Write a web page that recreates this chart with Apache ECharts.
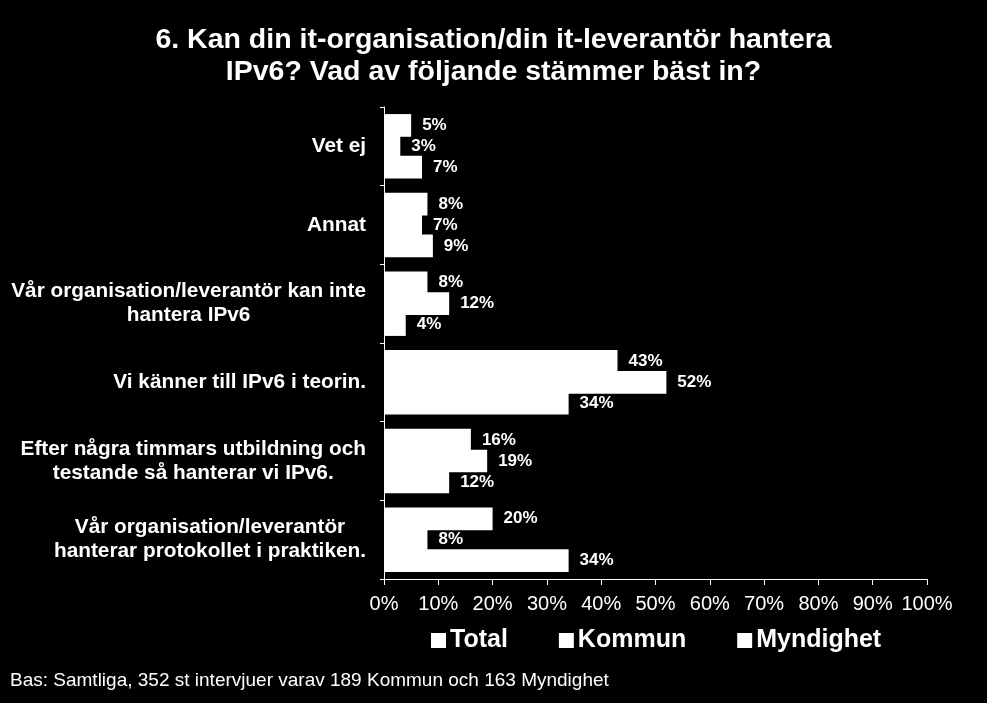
<!DOCTYPE html>
<html>
<head>
<meta charset="utf-8">
<script src="https://cdn.jsdelivr.net/npm/echarts@6/dist/echarts.min.js"></script>
<style>
html,body{margin:0;padding:0;background:#000;}
#c{width:987px;height:703px;}
</style>
</head>
<body>
<div id="c"></div>
<script>
const categories = [
  "Vet ej",
  "Annat",
  "Vår organisation/leverantör kan inte\nhantera IPv6",
  "Vi känner till IPv6 i teorin.",
  "Efter några timmars utbildning och\ntestande så hanterar vi IPv6.",
  "Vår organisation/leverantör\nhanterar protokollet i praktiken."
];
const seriesNames = ["Total", "Kommun", "Myndighet"];
const total = [5, 8, 8, 43, 16, 20];
const kommun = [3, 7, 12, 52, 19, 8];
const myndighet = [7, 9, 4, 34, 12, 34];
const xTicks = [0, 10, 20, 30, 40, 50, 60, 70, 80, 90, 100];

const FONT = "'Liberation Sans', Arial, sans-serif";
const chart = echarts.init(document.getElementById('c'));

function mkSeries(name, data) {
  return {
    name: name,
    type: 'bar',
    data: data,
    barGap: '-8%',
    barCategoryGap: '18%',
    itemStyle: { color: '#ffffff', borderColor: '#ffffff', borderWidth: 0 },
    label: {
      show: true,
      position: 'right',
      distance: 11,
      formatter: '{c}%',
      color: '#ffffff',
      fontFamily: FONT,
      fontWeight: 'bold',
      fontSize: 17
    }
  };
}

chart.setOption({
  backgroundColor: '#000000',
  animation: false,
  title: {
    text: '6. Kan din it-organisation/din it-leverantör hantera\nIPv6? Vad av följande stämmer bäst in?',
    left: 'center',
    top: 19,
    textStyle: {
      color: '#ffffff',
      fontFamily: FONT,
      fontWeight: 'bold',
      fontSize: 28.5,
      lineHeight: 32
    }
  },
  legend: {
    data: seriesNames,
    top: 623,
    left: 426,
    icon: 'rect',
    itemWidth: 15,
    itemHeight: 15,
    itemGap: 51,
    textStyle: {
      color: '#ffffff',
      fontFamily: FONT,
      fontWeight: 'bold',
      fontSize: 25,
      padding: [0, 0, 0, -1]
    }
  },
  graphic: [{
    type: 'text',
    left: 10,
    top: 671,
    style: {
      text: 'Bas: Samtliga, 352 st intervjuer varav 189 Kommun och 163 Myndighet',
      fill: '#ffffff',
      font: '19px ' + FONT
    }
  }],
  grid: {
    left: 384,
    right: 60,
    top: 107,
    bottom: 124,
    containLabel: false
  },
  xAxis: {
    type: 'value',
    min: 0,
    max: 100,
    interval: 10,
    axisLine: { show: true, lineStyle: { color: '#ffffff', width: 1 } },
    axisTick: { show: true, length: 6, lineStyle: { color: '#ffffff' } },
    splitLine: { show: false },
    axisLabel: {
      color: '#ffffff',
      fontFamily: FONT,
      fontSize: 20,
      margin: 15,
      formatter: function (v) { return xTicks.indexOf(v) >= 0 ? v + '%' : ''; }
    }
  },
  yAxis: {
    type: 'category',
    data: categories,
    inverse: true,
    axisLine: { show: true, lineStyle: { color: '#ffffff', width: 1 } },
    axisTick: { show: true, length: 4, alignWithLabel: false, lineStyle: { color: '#ffffff' } },
    axisLabel: {
      margin: 18,
      formatter: function (v) {
        return v.split('\n').map(function (l) { return '{c|' + l + '}'; }).join('\n');
      },
      rich: {
        c: {
          align: 'center',
          color: '#ffffff',
          fontFamily: FONT,
          fontWeight: 'bold',
          fontSize: 20.8,
          lineHeight: 24
        }
      }
    }
  },
  series: [
    mkSeries(seriesNames[0], total),
    mkSeries(seriesNames[1], kommun),
    mkSeries(seriesNames[2], myndighet)
  ]
});
</script>
</body>
</html>
